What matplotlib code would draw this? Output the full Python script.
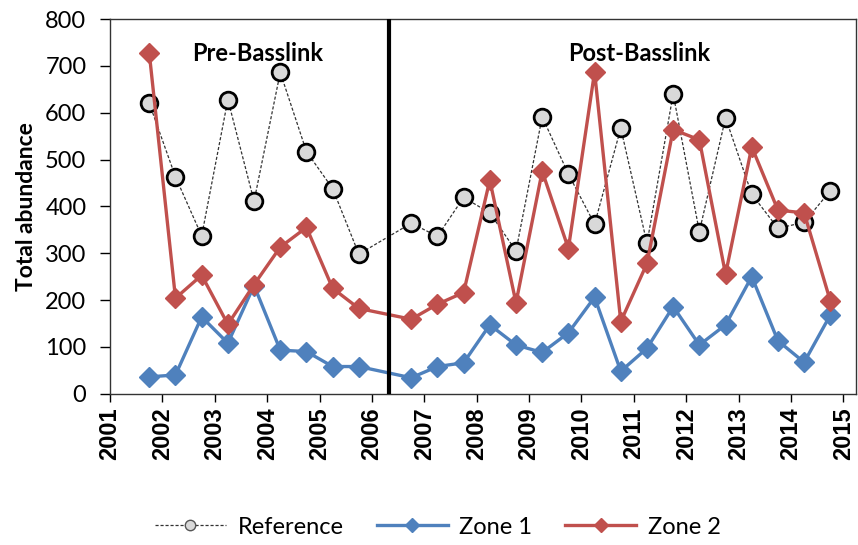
import matplotlib
matplotlib.use("Agg")
import matplotlib.pyplot as plt
from matplotlib.lines import Line2D

plt.rcParams['font.family'] = ['Lato', 'DejaVu Sans']

# sampling dates (decimal years)
dates = [2001.75, 2002.25, 2002.75, 2003.25, 2003.75, 2004.25, 2004.75, 2005.25, 2005.75,
         2006.75, 2007.25, 2007.75, 2008.25, 2008.75, 2009.25, 2009.75, 2010.25, 2010.75,
         2011.25, 2011.75, 2012.25, 2012.75, 2013.25, 2013.75, 2014.25, 2014.75]

reference = [620, 463, 337, 628, 411, 686, 517, 438, 298,
             364, 336, 419, 386, 305, 591, 469, 362, 567,
             321, 640, 346, 589, 426, 353, 366, 433]
zone1 = [36, 40, 164, 108, 231, 93, 90, 58, 58,
         34, 58, 66, 147, 104, 88, 130, 206, 48,
         97, 186, 104, 147, 250, 113, 67, 168]
zone2 = [727, 204, 253, 148, 233, 313, 355, 225, 182,
         159, 191, 216, 456, 194, 475, 310, 687, 154,
         278, 564, 542, 255, 527, 392, 386, 198]

year_ticks = list(range(2001, 2016))
basslink = 2006.33

fig = plt.figure(figsize=(8.58, 5.45), dpi=100)
ax = fig.add_axes([110/858, 1-393.7/545, (856-110)/858, (393.7-19)/545])

blue = '#4F81BD'
red = '#C0504D'
ref_ls = (0, (2.5, 1.5))

ax.plot(dates, reference, linestyle=ref_ls, color='#333333', linewidth=0.9,
        marker='o', markersize=12, markerfacecolor='#D9D9D9', markeredgecolor='black',
        markeredgewidth=2, zorder=3)
ax.plot(dates, zone1, color=blue, linewidth=2.4, marker='D', markersize=10.5,
        markerfacecolor=blue, markeredgecolor=blue, zorder=4)
ax.plot(dates, zone2, color=red, linewidth=2.4, marker='D', markersize=10.5,
        markerfacecolor=red, markeredgecolor=red, zorder=5)

ax.axvline(basslink, color='black', linewidth=3, zorder=6)

ax.text(2003.82, 727, 'Pre-Basslink', fontsize=17, fontweight='bold', ha='center', va='center')
ax.text(2011.1, 727, 'Post-Basslink', fontsize=17, fontweight='bold', ha='center', va='center')

ax.set_xlim(2001, 2015.24)
ax.set_ylim(0, 800)
ax.set_xticks(year_ticks)
ax.set_xticklabels([str(y) for y in year_ticks], rotation=90, fontsize=17, fontweight='bold',
                   family=['Liberation Sans', 'DejaVu Sans'])
ax.set_yticks(range(0, 801, 100))
ax.tick_params(axis='y', labelsize=17, direction='out', length=7, width=1, pad=10)
ax.tick_params(axis='x', direction='out', length=6, width=1, pad=4)
ax.set_ylabel('Total abundance', fontsize=16.5, fontweight='bold', labelpad=6)

for s in ax.spines.values():
    s.set_color('#333333')
    s.set_linewidth(1)

handles = [
    Line2D([], [], linestyle=ref_ls, color='#333333', linewidth=0.9, marker='o', markersize=7.5,
           markerfacecolor='#D9D9D9', markeredgecolor='#555555', markeredgewidth=1),
    Line2D([], [], color=blue, linewidth=2.4, marker='D', markersize=7, markerfacecolor=blue,
           markeredgecolor=blue),
    Line2D([], [], color=red, linewidth=2.4, marker='D', markersize=7, markerfacecolor=red,
           markeredgecolor=red),
]
fig.legend(handles, ['Reference', 'Zone 1', 'Zone 2'], loc='center',
           bbox_to_anchor=(438/858, 1-527/545), ncol=3, frameon=False,
           fontsize=17, handlelength=3.0, columnspacing=1.4, handletextpad=0.5)

fig.savefig('out.png', dpi=100)
